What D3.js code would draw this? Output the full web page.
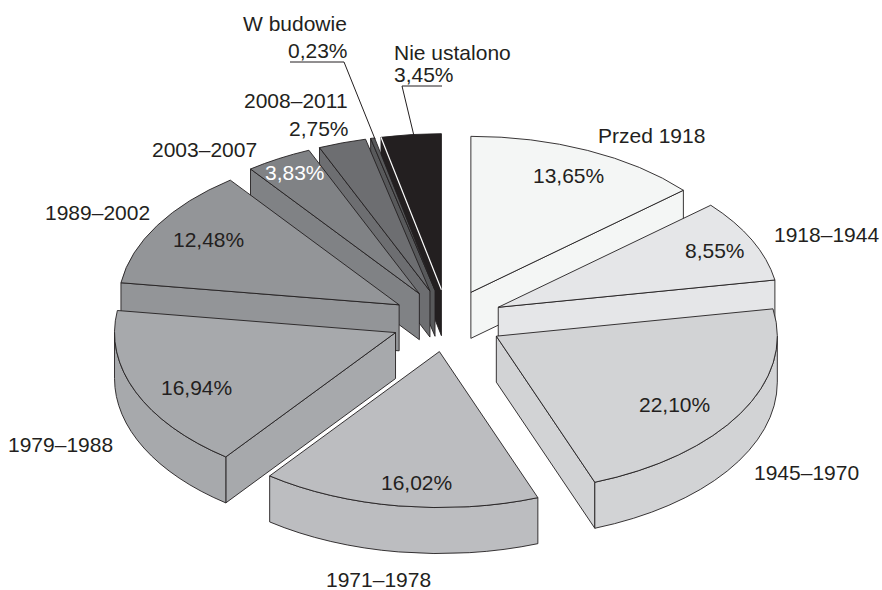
<!DOCTYPE html>
<html>
<head>
<meta charset="utf-8">
<script src="https://cdn.jsdelivr.net/npm/d3@7"></script>
<style>
  body { margin: 0; background: #fff; }
  text { font-family: "Liberation Sans", Arial, sans-serif; font-size: 21px; fill: #231f20; }
</style>
</head>
<body>
<svg id="wykres" width="882" height="590"></svg>
<script>
// Dane
let kategorie = ['Przed 1918', '1918–1944', '1945–1970', '1971–1978', '1979–1988', '1989–2002', '2003–2007', '2008–2011', 'W budowie', 'Nie ustalono']
let wartosci = [13.65, 8.55, 22.10, 16.02, 16.94, 12.48, 3.83, 2.75, 0.23, 3.45]

// Kolory
let kolory = ['#f4f6f5', '#e5e6e8', '#d2d3d5', '#bcbdc0', '#a7a9ac', '#939598', '#808285', '#6d6e71', '#58595b', '#231f20']

// Polozenie opisow: [x, y linii bazowej]
let opisyKategorii = [
    [598, 143], [774, 242], [754, 480], [326, 587], [8, 452],
    [45, 220], [152, 157], [244, 108], [243, 31], [394, 60]
]
let opisyWartosci = [
    [533, 183], [685, 258], [639, 412], [381, 490], [161, 395],
    [173, 247], [265, 180], [289, 136], [288, 58], [394, 82]
]

const cx = 447.5, cy = 320.7, rx = 281, ry = 156, glebokosc = 46, wysuniecie = 0.2

let svg = d3.select('#wykres')

let pie = d3.pie().sort(null).value(d => d)
let luki = pie(wartosci)

// Punkt na elipsie dla kata liczonego od gory zgodnie z zegarem
function punkt(kat, skala) {
    return [skala * rx * Math.sin(kat), -skala * ry * Math.cos(kat)]
}

function fmt(p) {
    return p[0].toFixed(2) + ' ' + p[1].toFixed(2)
}

function wierzcholek(d) {
    let sr = (d.startAngle + d.endAngle) / 2
    let p = punkt(sr, wysuniecie)
    return [cx + p[0], cy + p[1]]
}

function naObwodzie(d, kat, dy) {
    let a = wierzcholek(d), p = punkt(kat, 1)
    return [a[0] + p[0], a[1] + p[1] + dy]
}

function sciezkaGora(d) {
    let a = wierzcholek(d)
    let s = naObwodzie(d, d.startAngle, 0), e = naObwodzie(d, d.endAngle, 0)
    return 'M' + fmt(a) + 'L' + fmt(s) + 'A' + rx + ' ' + ry + ' 0 0 1 ' + fmt(e) + 'Z'
}

// Bok prosty wzdluz promienia
function sciezkaPromien(d, kat) {
    let a = wierzcholek(d), p = naObwodzie(d, kat, 0), q = naObwodzie(d, kat, glebokosc)
    return 'M' + fmt(a) + 'L' + fmt(p) + 'L' + fmt(q) + 'L' + fmt([a[0], a[1] + glebokosc]) + 'Z'
}

// Bok zewnetrzny, widoczny tylko w dolnej polowie elipsy
function sciezkaObwod(d) {
    let k0 = Math.max(d.startAngle, Math.PI / 2), k1 = Math.min(d.endAngle, 3 * Math.PI / 2)
    if (k1 <= k0) return null
    let a = naObwodzie(d, k0, 0), b = naObwodzie(d, k1, 0)
    let a2 = naObwodzie(d, k0, glebokosc), b2 = naObwodzie(d, k1, glebokosc)
    return 'M' + fmt(a) + 'A' + rx + ' ' + ry + ' 0 0 1 ' + fmt(b) + 'L' + fmt(b2) +
        'A' + rx + ' ' + ry + ' 0 0 0 ' + fmt(a2) + 'Z'
}

function rysuj(d, i) {
    let g = svg.append('g').attr('class', 'wycinek')
    let styl = sel => sel.attr('fill', kolory[i]).attr('stroke', '#231f20').attr('stroke-width', 0.9).attr('stroke-linejoin', 'round')

    // po prawej widoczny jest bok konca, po lewej bok poczatku
    if (d.endAngle <= Math.PI) g.append('path').attr('d', sciezkaPromien(d, d.endAngle)).call(styl)
    if (d.startAngle >= Math.PI) g.append('path').attr('d', sciezkaPromien(d, d.startAngle)).call(styl)

    let obwod = sciezkaObwod(d)
    if (obwod) g.append('path').attr('d', obwod).call(styl)

    g.append('path').attr('d', sciezkaGora(d)).call(styl)

    // biala krawedz ciemnego wycinka
    if (i == 9) {
        let a = wierzcholek(d), s = naObwodzie(d, d.startAngle, 0)
        g.append('line')
            .attr('x1', a[0]).attr('y1', a[1]).attr('x2', s[0]).attr('y2', s[1])
            .attr('stroke', '#fff').attr('stroke-width', 1.2)
    }
}

// Kolejnosc od tylu do przodu
let kolejnosc = [0, 1, 2, 9, 8, 7, 6, 5, 4, 3]
kolejnosc.forEach(i => rysuj(luki[i], i))

// Linie odniesienia
let odnosniki = [
    [[290, 62], [344, 62], [375, 139]],
    [[442, 86], [402, 86], [414, 136]]
]
let linia = d3.line()
odnosniki.forEach(o => {
    svg.append('path').attr('d', linia(o)).attr('fill', 'none').attr('stroke', '#231f20').attr('stroke-width', 1)
})

// Opisy
svg.selectAll('text.kategoria')
    .data(kategorie)
    .join('text')
    .attr('class', 'kategoria')
    .attr('x', (d, i) => opisyKategorii[i][0])
    .attr('y', (d, i) => opisyKategorii[i][1])
    .text(d => d)

svg.selectAll('text.wartosc')
    .data(wartosci)
    .join('text')
    .attr('class', 'wartosc')
    .attr('x', (d, i) => opisyWartosci[i][0])
    .attr('y', (d, i) => opisyWartosci[i][1])
    .style('fill', (d, i) => i == 6 ? '#fff' : null)
    .text(d => d.toFixed(2).replace('.', ',') + '%')
</script>
</body>
</html>
